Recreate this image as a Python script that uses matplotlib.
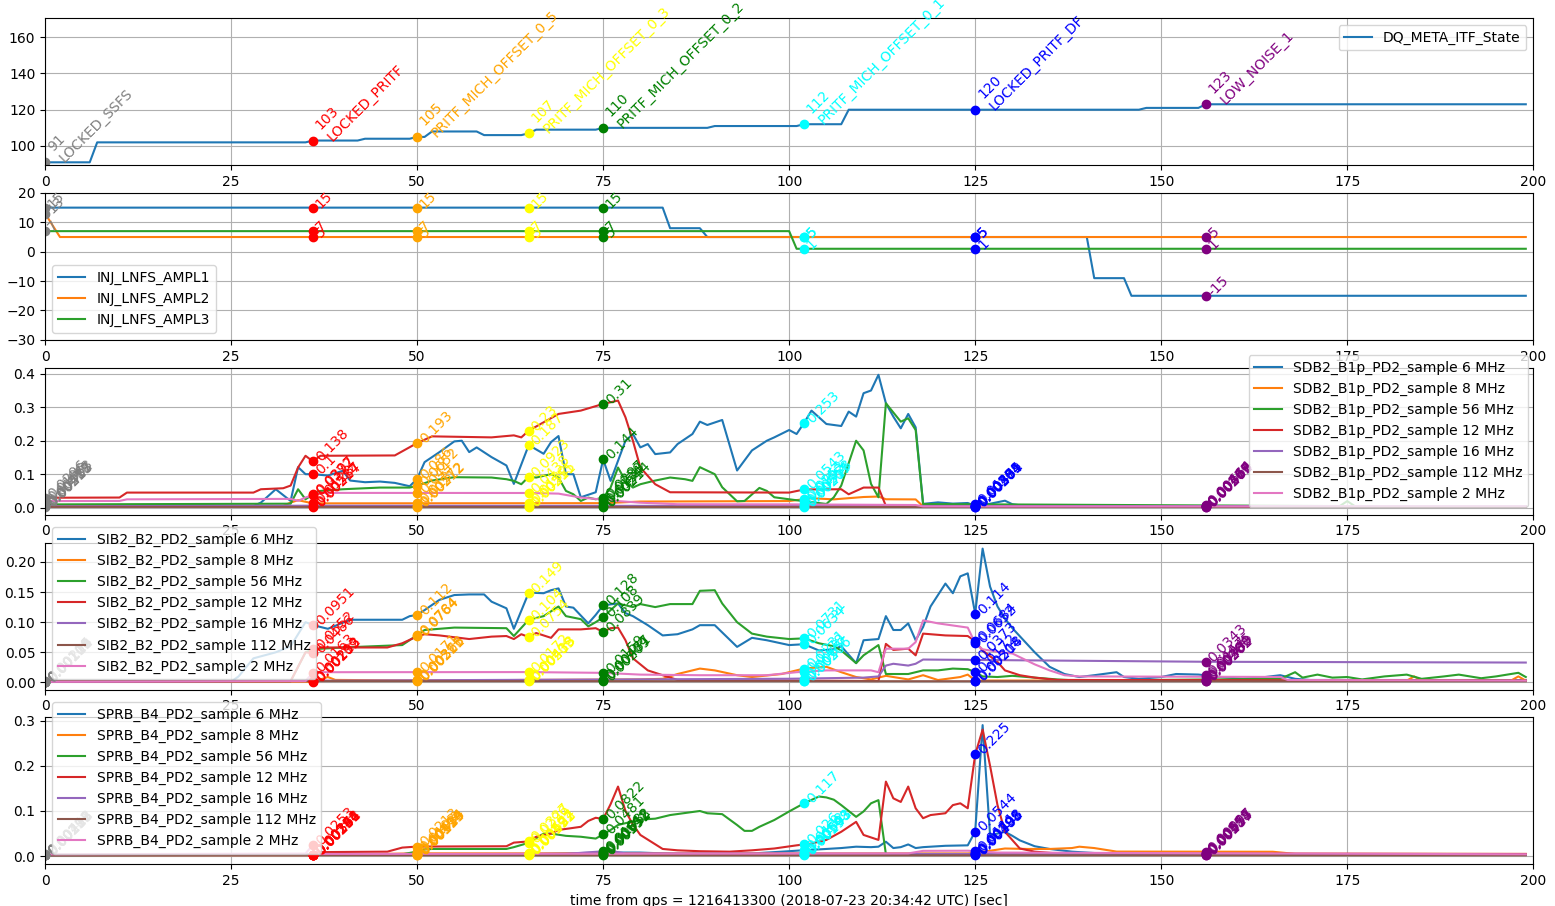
import numpy as np
import matplotlib
matplotlib.use("Agg")
import matplotlib.pyplot as plt

# flagged times (s after gps start) and the colour each flag is drawn with
event_t = [0, 36, 50, 65, 75, 102, 125, 156]
event_c = ['gray', 'red', 'orange', 'yellow', 'green', 'cyan', 'blue', 'purple']
state_names = {91: 'LOCKED_SSFS', 103: 'LOCKED_PRITF', 105: 'PRITF_MICH_OFFSET_0_5',
               107: 'PRITF_MICH_OFFSET_0_3', 110: 'PRITF_MICH_OFFSET_0_2',
               112: 'PRITF_MICH_OFFSET_0_1', 120: 'LOCKED_PRITF_DF', 123: 'LOW_NOISE_1'}

# DQ_META_ITF_State
state_t = [0, 6, 7, 35, 36, 42, 43, 49, 50, 51, 52, 58, 59, 64, 65, 66, 74, 75, 89, 90,
           101, 102, 107, 108, 147, 148, 155, 156, 199]
state_v = [91, 91, 102, 102, 103, 103, 104, 104, 105, 105, 108, 108, 106, 106, 107, 109, 109, 110, 110, 111,
           111, 112, 112, 120, 120, 121, 121, 123, 123]

# INJ_LNFS amplitudes
ampl1_t = [0, 83, 84, 88, 89, 140, 141, 145, 146, 199]
ampl1_v = [15, 15, 8, 8, 5, 5, -9, -9, -15, -15]
ampl2_t = [0, 2, 199]
ampl2_v = [13, 5, 5]
ampl3_t = [0, 100, 101, 199]
ampl3_v = [7, 7, 1, 1]

freqs = ['6', '8', '56', '12', '16', '112', '2']

# SDB2_B1p_PD2 demodulated amplitudes
sdb_6_t = [0, 28, 29, 31, 33, 34, 35, 36, 38, 40, 41, 43, 45, 47, 49, 50, 51, 53, 55, 56,
           57, 58, 60, 62, 63, 65, 67, 68, 69, 70, 71, 72, 74, 75, 76, 78, 79, 80, 81, 82,
           84, 85, 87, 88, 89, 91, 93, 95, 97, 98, 100, 101, 102, 103, 105, 107, 108, 109, 110, 111,
           112, 113, 114, 115, 116, 117, 118, 120, 122, 124, 125, 127, 129, 130, 132, 143, 144, 145, 199]
sdb_6_v = [0.00487, 0.00512, 0.015, 0.055, 0.02, 0.121, 0.1, 0.1, 0.096, 0.11, 0.081, 0.076, 0.078, 0.074, 0.064, 0.086, 0.136, 0.166, 0.198, 0.2,
           0.166, 0.18, 0.151, 0.126, 0.071, 0.187, 0.161, 0.196, 0.214, 0.1, 0.1, 0.031, 0.046, 0.144, 0.08, 0.2, 0.22, 0.18, 0.19, 0.16,
           0.165, 0.19, 0.22, 0.257, 0.247, 0.262, 0.111, 0.171, 0.2, 0.21, 0.232, 0.22, 0.253, 0.29, 0.25, 0.244, 0.287, 0.272, 0.342, 0.35,
           0.397, 0.312, 0.272, 0.237, 0.28, 0.24, 0.0113, 0.0158, 0.0121, 0.0139, 0.00559, 0.0117, 0.0208, 0.0102, 0.00412, 0.00438, 0.00713, 0.00421, 0.00396]
sdb_8_t = [0, 32, 33, 34, 36, 75, 80, 100, 103, 106, 110, 112, 113, 117, 118, 199]
sdb_8_v = [0.00523, 0.00541, 0.0152, 0.0223, 0.0128, 0.0134, 0.0182, 0.0197, 0.0281, 0.0248, 0.0318, 0.0332, 0.0251, 0.0246, 0.00386, 0.00371]
sdb_56_t = [0, 33, 34, 35, 36, 37, 40, 45, 49, 50, 52, 55, 60, 62, 63, 64, 65, 66, 68, 69,
            70, 71, 72, 73, 74, 75, 76, 77, 78, 79, 80, 82, 84, 86, 87, 88, 90, 91, 93, 94,
            96, 97, 98, 100, 102, 105, 106, 107, 109, 110, 111, 112, 113, 115, 116, 117, 118, 174, 175, 176, 199]
sdb_56_v = [0.00963, 0.0118, 0.055, 0.025, 0.0397, 0.05, 0.055, 0.06, 0.06, 0.0652, 0.081, 0.091, 0.09, 0.085, 0.08, 0.07, 0.0923, 0.09, 0.1, 0.09,
            0.05, 0.04, 0.02, 0.03, 0.025, 0.0297, 0.06, 0.12, 0.08, 0.06, 0.07, 0.081, 0.09, 0.085, 0.08, 0.121, 0.1, 0.061, 0.019, 0.02,
            0.059, 0.05, 0.031, 0.025, 0.0192, 0.011, 0.031, 0.066, 0.2, 0.171, 0.071, 0.031, 0.312, 0.257, 0.267, 0.232, 0.0108, 0.00467, 0.0196, 0.00482, 0.00451]
sdb_12_t = [0, 10, 11, 28, 29, 32, 33, 34, 35, 36, 37, 47, 50, 52, 60, 63, 64, 65, 67, 69,
            72, 75, 77, 78, 79, 80, 82, 84, 100, 102, 107, 108, 110, 112, 113, 125, 199]
sdb_12_v = [0.0296, 0.0302, 0.045, 0.045, 0.055, 0.058, 0.066, 0.12, 0.155, 0.138, 0.155, 0.156, 0.193, 0.213, 0.21, 0.216, 0.21, 0.23, 0.255, 0.28,
            0.29, 0.31, 0.32, 0.27, 0.2, 0.12, 0.07, 0.046, 0.045, 0.0543, 0.055, 0.04, 0.06, 0.06, 0.00513, 0.00304, 0.00221]
sdb_16_t = [0, 36, 118, 199]
sdb_16_v = [0.00412, 0.00587, 0.00497, 0.00433]
sdb_112_t = [0, 199]
sdb_112_v = [0.00218, 0.00196]
sdb_2_t = [0, 10, 11, 33, 34, 35, 37, 65, 69, 72, 77, 80, 85, 100, 117, 118, 199]
sdb_2_v = [0.0196, 0.0201, 0.0248, 0.0262, 0.0203, 0.0304, 0.0441, 0.0438, 0.0419, 0.0302, 0.0197, 0.0148, 0.0103, 0.0098, 0.0079, 0.00372, 0.00364]

# SIB2_B2_PD2 demodulated amplitudes
sib_6_t = [0, 25, 26, 28, 31, 33, 35, 36, 38, 41, 46, 48, 49, 50, 51, 53, 55, 57, 59, 60,
           62, 63, 65, 67, 68, 69, 70, 71, 73, 74, 75, 77, 78, 79, 81, 83, 85, 87, 88, 90,
           93, 95, 97, 100, 102, 104, 106, 107, 109, 110, 112, 113, 114, 115, 116, 117, 118, 119, 121, 122,
           123, 124, 125, 126, 127, 128, 129, 130, 133, 135, 137, 139, 141, 144, 145, 147, 150, 152, 155, 158,
           161, 164, 166, 168, 170, 199]
sib_6_v = [0.00112, 0.00118, 0.01, 0.04, 0.05, 0.06, 0.1, 0.0951, 0.089, 0.104, 0.104, 0.104, 0.11, 0.112, 0.12, 0.137, 0.145, 0.146, 0.146, 0.134,
           0.123, 0.089, 0.149, 0.148, 0.153, 0.156, 0.126, 0.124, 0.098, 0.112, 0.128, 0.131, 0.115, 0.11, 0.095, 0.078, 0.08, 0.088, 0.095, 0.095,
           0.059, 0.074, 0.07, 0.062, 0.0634, 0.053, 0.055, 0.06, 0.032, 0.07, 0.072, 0.11, 0.087, 0.087, 0.098, 0.07, 0.092, 0.126, 0.164, 0.148,
           0.176, 0.181, 0.114, 0.222, 0.159, 0.126, 0.106, 0.09, 0.05, 0.026, 0.014, 0.009, 0.012, 0.017, 0.009, 0.006, 0.009, 0.014, 0.0131, 0.009,
           0.006, 0.009, 0.012, 0.006, 0.00412, 0.00398]
sib_8_t = [0, 36, 37, 38, 39, 50, 80, 83, 85, 88, 90, 93, 95, 99, 102, 105, 107, 109, 111, 113,
           116, 118, 120, 123, 124, 125, 183, 184, 185, 197, 198, 199]
sib_8_v = [0.00104, 0.00109, 0.005, 0.009, 0.0042, 0.00326, 0.005, 0.006, 0.014, 0.023, 0.02, 0.012, 0.009, 0.014, 0.0231, 0.026, 0.017, 0.009, 0.005, 0.011,
           0.005, 0.012, 0.004, 0.009, 0.013, 0.00318, 0.00296, 0.01, 0.003, 0.003, 0.01, 0.003]
sib_56_t = [0, 33, 35, 36, 40, 48, 50, 51, 55, 62, 63, 65, 67, 69, 70, 72, 73, 74, 75, 76,
            77, 79, 80, 82, 84, 87, 88, 90, 91, 93, 95, 97, 100, 102, 104, 106, 107, 109, 110, 112,
            113, 116, 118, 120, 122, 124, 125, 126, 128, 130, 132, 136, 139, 166, 168, 169, 171, 173, 175, 177,
            180, 183, 185, 188, 190, 193, 195, 198, 199]
sib_56_v = [0.00121, 0.00207, 0.05, 0.0552, 0.058, 0.062, 0.0784, 0.087, 0.091, 0.09, 0.077, 0.104, 0.11, 0.126, 0.11, 0.105, 0.093, 0.1, 0.108, 0.12,
            0.131, 0.125, 0.13, 0.125, 0.13, 0.13, 0.152, 0.153, 0.131, 0.1, 0.081, 0.076, 0.072, 0.0731, 0.065, 0.06, 0.053, 0.032, 0.045, 0.062,
            0.014, 0.014, 0.02, 0.02, 0.023, 0.022, 0.0172, 0.01, 0.009, 0.011, 0.009, 0.005, 0.003, 0.006, 0.017, 0.008, 0.013, 0.008, 0.009, 0.005,
            0.01, 0.013, 0.006, 0.01, 0.013, 0.007, 0.01, 0.016, 0.009]
sib_12_t = [0, 33, 35, 36, 37, 46, 48, 50, 51, 53, 55, 57, 60, 62, 63, 64, 65, 66, 68, 69,
            72, 74, 75, 76, 77, 78, 79, 81, 83, 85, 112, 113, 114, 116, 117, 118, 121, 124, 125, 126,
            128, 129, 131, 133, 136, 199]
sib_12_v = [0.00108, 0.00206, 0.05, 0.0486, 0.058, 0.058, 0.065, 0.0764, 0.08, 0.078, 0.075, 0.072, 0.076, 0.077, 0.072, 0.08, 0.0754, 0.082, 0.074, 0.088,
            0.088, 0.09, 0.0839, 0.09, 0.091, 0.07, 0.04, 0.02, 0.012, 0.00412, 0.00234, 0.064, 0.054, 0.056, 0.045, 0.081, 0.078, 0.077, 0.0684, 0.053,
            0.034, 0.02, 0.012, 0.008, 0.00416, 0.00302]
sib_16_t = [0, 36, 100, 110, 112, 113, 114, 116, 117, 118, 156, 199]
sib_16_v = [0.00114, 0.00293, 0.00612, 0.008, 0.01, 0.028, 0.031, 0.028, 0.031, 0.038, 0.0343, 0.033]
sib_112_t = [0, 199]
sib_112_v = [0.00215, 0.00198]
sib_2_t = [0, 35, 36, 37, 65, 75, 80, 88, 97, 101, 105, 111, 112, 113, 116, 117, 118, 120, 124, 125,
           126, 128, 130, 131, 133, 135, 137, 139, 166, 167, 199]
sib_2_v = [0.00109, 0.00216, 0.0163, 0.017, 0.0172, 0.0159, 0.013, 0.012, 0.012, 0.017, 0.02, 0.02, 0.017, 0.056, 0.056, 0.067, 0.103, 0.098, 0.091, 0.0652,
           0.055, 0.051, 0.048, 0.042, 0.03, 0.02, 0.012, 0.01, 0.00913, 0.00407, 0.00312]

# SPRB_B4_PD2 demodulated amplitudes
sprb_6_t = [0, 50, 65, 75, 80, 85, 95, 99, 102, 105, 107, 109, 111, 112, 113, 114, 115, 116, 117, 118,
            121, 124, 125, 126, 127, 128, 129, 130, 131, 133, 135, 138, 141, 147, 199]
sprb_6_v = [0.00213, 0.00314, 0.00427, 0.00812, 0.008, 0.005, 0.006, 0.01, 0.0132, 0.016, 0.018, 0.021, 0.02, 0.021, 0.032, 0.018, 0.02, 0.026, 0.018, 0.02,
            0.023, 0.024, 0.0544, 0.29, 0.047, 0.05, 0.054, 0.045, 0.035, 0.022, 0.016, 0.01, 0.007, 0.00518, 0.00412]
sprb_8_t = [0, 36, 50, 100, 124, 125, 129, 132, 135, 138, 139, 141, 144, 165, 168, 199]
sprb_8_v = [0.00223, 0.00241, 0.00634, 0.00602, 0.00613, 0.00708, 0.017, 0.016, 0.016, 0.018, 0.021, 0.018, 0.0102, 0.0098, 0.00513, 0.00487]
sprb_56_t = [0, 48, 50, 51, 52, 62, 63, 65, 67, 68, 70, 72, 74, 75, 76, 77, 80, 82, 84, 88,
             89, 91, 93, 94, 95, 96, 98, 100, 102, 104, 105, 106, 107, 109, 110, 111, 112, 113, 199]
sprb_56_v = [0.00207, 0.00413, 0.0103, 0.015, 0.016, 0.016, 0.02, 0.0296, 0.05, 0.05, 0.045, 0.043, 0.039, 0.0481, 0.058, 0.069, 0.081, 0.083, 0.091, 0.1,
             0.095, 0.093, 0.069, 0.056, 0.056, 0.065, 0.08, 0.099, 0.117, 0.132, 0.13, 0.125, 0.113, 0.087, 0.099, 0.117, 0.124, 0.00413, 0.00302]
sprb_12_t = [0, 36, 37, 46, 48, 50, 62, 63, 65, 66, 68, 69, 72, 73, 74, 75, 76, 77, 78, 79,
             80, 83, 85, 88, 92, 95, 98, 101, 103, 105, 107, 109, 110, 112, 113, 114, 115, 116, 117, 118,
             119, 121, 122, 123, 124, 125, 126, 127, 128, 129, 131, 133, 136, 199]
sprb_12_v = [0.00231, 0.00254, 0.009, 0.01, 0.019, 0.0213, 0.022, 0.03, 0.0327, 0.043, 0.05, 0.058, 0.065, 0.078, 0.085, 0.0822, 0.115, 0.154, 0.1, 0.07,
             0.047, 0.016, 0.013, 0.011, 0.01, 0.013, 0.017, 0.024, 0.028, 0.036, 0.054, 0.076, 0.047, 0.036, 0.165, 0.128, 0.12, 0.154, 0.106, 0.084,
             0.091, 0.095, 0.113, 0.117, 0.106, 0.225, 0.28, 0.2, 0.113, 0.054, 0.017, 0.01, 0.00612, 0.00497]
sprb_16_t = [0, 70, 76, 78, 199]
sprb_16_v = [0.00218, 0.00513, 0.0119, 0.00608, 0.00307]
sprb_112_t = [0, 199]
sprb_112_v = [0.00196, 0.00184]
sprb_2_t = [0, 35, 36, 37, 116, 118, 124, 128, 199]
sprb_2_v = [0.00412, 0.00583, 0.0253, 0.00497, 0.00611, 0.0118, 0.0121, 0.00803, 0.00416]


def flag_events(ax, t, v, fmt):
    for te, c in zip(event_t, event_c):
        y = np.interp(te, t, v)
        ax.plot(te, y, 'o', color=c)
        ax.text(te, y, fmt(y), rotation=45, color=c)


fig, axes = plt.subplots(5, 1, figsize=(15.55, 9.06), dpi=100)
fig.subplots_adjust(left=0.029, right=0.986, top=0.980, bottom=0.046, hspace=0.19)

# state
ax = axes[0]
ax.plot(state_t, state_v, label='DQ_META_ITF_State')
flag_events(ax, state_t, state_v, lambda y: '%d\n%s' % (round(y), state_names[round(y)]))
ax.set_ylim(89.5, 170.5)
ax.set_yticks([100, 120, 140, 160])
ax.legend(loc='upper right')

# injection amplitudes
ax = axes[1]
ampl = [(ampl1_t, ampl1_v, 'INJ_LNFS_AMPL1'), (ampl2_t, ampl2_v, 'INJ_LNFS_AMPL2'),
        (ampl3_t, ampl3_v, 'INJ_LNFS_AMPL3')]
for t, v, name in ampl:
    ax.plot(t, v, label=name)
for t, v, name in ampl:
    flag_events(ax, t, v, lambda y: '%.3g' % y)
ax.set_ylim(-30, 20)
ax.set_yticks(range(-30, 21, 10))
ax.legend(loc='lower left')

panels = [
    (axes[2], 'SDB2_B1p_PD2_sample', [(sdb_6_t, sdb_6_v), (sdb_8_t, sdb_8_v), (sdb_56_t, sdb_56_v),
                                      (sdb_12_t, sdb_12_v), (sdb_16_t, sdb_16_v), (sdb_112_t, sdb_112_v),
                                      (sdb_2_t, sdb_2_v)],
     (-0.021, 0.418), np.arange(0, 0.41, 0.1), '%.1f', 'upper right', (0.9966, 1.087)),
    (axes[3], 'SIB2_B2_PD2_sample', [(sib_6_t, sib_6_v), (sib_8_t, sib_8_v), (sib_56_t, sib_56_v),
                                     (sib_12_t, sib_12_v), (sib_16_t, sib_16_v), (sib_112_t, sib_112_v),
                                     (sib_2_t, sib_2_v)],
     (-0.0117, 0.232), np.arange(0, 0.21, 0.05), '%.2f', 'upper left', (0.0047, 1.103)),
    (axes[4], 'SPRB_B4_PD2_sample', [(sprb_6_t, sprb_6_v), (sprb_8_t, sprb_8_v), (sprb_56_t, sprb_56_v),
                                     (sprb_12_t, sprb_12_v), (sprb_16_t, sprb_16_v), (sprb_112_t, sprb_112_v),
                                     (sprb_2_t, sprb_2_v)],
     (-0.018, 0.307), np.arange(0, 0.31, 0.1), '%.1f', 'upper left', (0.0047, 1.103)),
]
for ax, chan, series, ylim, yt, yfmt, loc, anchor in panels:
    for (t, v), f in zip(series, freqs):
        ax.plot(t, v, label='%s %s MHz' % (chan, f))
    for t, v in series:
        flag_events(ax, t, v, lambda y: '%.3g' % y)
    ax.set_ylim(*ylim)
    ax.set_yticks(yt)
    ax.set_yticklabels([yfmt % y for y in yt])
    ax.legend(loc=loc, bbox_to_anchor=anchor, borderaxespad=0)

for ax in axes:
    ax.set_xlim(0, 200)
    ax.set_xticks(range(0, 201, 25))
    ax.grid(True)

axes[-1].set_xlabel('time from gps = 1216413300 (2018-07-23 20:34:42 UTC) [sec]')

fig.savefig('out.png', dpi=100)
